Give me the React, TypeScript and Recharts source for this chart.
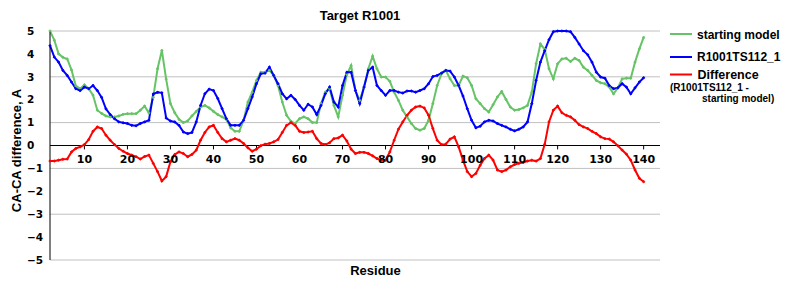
import React from 'react';
import {
  LineChart,
  Line,
  XAxis,
  YAxis,
  CartesianGrid,
  ReferenceLine,
  ReferenceDot,
  Legend,
} from 'recharts';

const FIRST_RESIDUE = 2;

// starting model, residues 2..140
const startingModel = [
  5.0, 4.6, 4.0, 3.85, 3.78, 3.3, 2.6, 2.48, 2.65, 2.48,
  2.2, 1.54, 1.4, 1.29, 1.25, 1.25, 1.29, 1.36, 1.39, 1.39,
  1.39, 1.54, 1.72, 1.42, 2.1, 3.35, 4.15, 2.9, 1.83, 1.43,
  1.14, 1.0, 1.07, 1.29, 1.49, 1.68, 1.75, 1.64, 1.49, 1.35,
  1.25, 1.14, 0.77, 0.62, 0.62, 1.1, 1.9, 2.33, 2.84, 3.2,
  3.2, 3.28, 3.06, 2.62, 1.9, 1.32, 1.06, 0.96, 1.17, 1.25,
  1.17, 1.0, 1.0, 1.83, 2.33, 2.48, 1.75, 1.25, 2.19, 3.1,
  3.49, 2.4, 1.97, 2.55, 3.35, 3.9, 3.35, 2.99, 2.99, 2.8,
  2.33, 1.97, 1.54, 1.25, 0.96, 0.74, 0.67, 0.74, 1.1, 1.83,
  2.62, 3.13, 3.28, 2.91, 2.62, 2.62, 3.03, 2.96, 2.62, 2.04,
  1.83, 1.61, 1.46, 1.78, 2.12, 2.36, 2.01, 1.68, 1.54, 1.57,
  1.64, 1.75, 2.33, 3.57, 4.43, 4.2, 3.35, 2.91, 3.57, 3.78,
  3.81, 3.67, 3.81, 3.71, 3.42, 3.28, 3.06, 2.84, 2.74, 2.7,
  2.55, 2.26, 2.51, 2.91, 2.94, 2.94, 3.64, 4.22, 4.72,
];

// R1001TS112_1, residues 2..140
const r1001ts112 = [
  4.36, 3.86, 3.64, 3.28, 3.06, 2.77, 2.48, 2.4, 2.55, 2.48,
  2.62, 2.4, 2.1, 1.6, 1.35, 1.17, 1.03, 0.99, 0.96, 0.88,
  0.86, 0.96, 1.03, 1.1, 2.25, 2.32, 2.3, 1.2, 1.07, 1.03,
  0.88, 0.59, 0.52, 0.57, 1.03, 1.75, 2.26, 2.46, 2.4, 2.05,
  1.61, 1.17, 0.88, 0.88, 0.88, 1.1, 1.61, 2.12, 2.7, 3.13,
  3.16, 3.42, 3.06, 2.7, 2.26, 2.04, 2.19, 2.01, 1.75, 1.54,
  1.8, 1.68, 1.35, 1.75, 2.26, 2.55, 1.9, 1.68, 2.62, 3.2,
  3.2, 2.4, 1.83, 2.55, 3.28, 3.42, 2.62, 2.4, 2.19, 2.4,
  2.4, 2.33, 2.29, 2.38, 2.38, 2.33, 2.4, 2.48, 2.7, 3.01,
  3.06, 3.16, 3.28, 3.25, 2.99, 2.62, 2.16, 1.61, 1.1, 0.77,
  0.84, 1.03, 1.1, 1.07, 0.96, 0.88, 0.81, 0.71, 0.64, 0.71,
  0.81, 1.03, 1.83, 2.84, 3.64, 4.14, 4.62, 4.97, 5.0, 5.0,
  5.0, 4.97, 4.72, 4.43, 4.14, 3.96, 3.64, 3.2, 2.99, 2.94,
  2.62, 2.48, 2.52, 2.7, 2.55, 2.26, 2.52, 2.77, 2.96,
];

// Difference (R1001TS112_1 - starting model), residues 2..140
const difference = [
  -0.68, -0.68, -0.64, -0.6, -0.59, -0.28, -0.13, -0.06, 0.04, 0.26,
  0.62, 0.81, 0.74, 0.45, 0.23, 0.04, -0.13, -0.25, -0.35, -0.42,
  -0.49, -0.59, -0.48, -0.42, -0.78, -1.14, -1.55, -1.36, -0.71, -0.39,
  -0.28, -0.35, -0.49, -0.39, -0.2, 0.23, 0.57, 0.81, 0.88, 0.57,
  0.3, 0.16, 0.23, 0.3, 0.23, 0.09, -0.1, -0.25, -0.16, -0.01,
  0.06, 0.09, 0.16, 0.26, 0.57, 0.88, 1.0, 0.88, 0.62, 0.57,
  0.59, 0.62, 0.3, 0.09, 0.04, 0.12, 0.3, 0.33, 0.45, 0.2,
  -0.16, -0.35, -0.3, -0.3, -0.35, -0.45, -0.57, -0.64, -0.64, -0.28,
  0.23, 0.71, 1.03, 1.32, 1.54, 1.68, 1.72, 1.64, 1.32, 0.74,
  0.23, 0.04, 0.06, 0.28, 0.38, -0.06, -0.64, -1.14, -1.36, -1.22,
  -0.86, -0.57, -0.42, -0.64, -1.07, -1.14, -1.07, -0.93, -0.83, -0.78,
  -0.74, -0.68, -0.64, -0.68, -0.57, 0.05, 1.03, 1.54, 1.72, 1.43,
  1.32, 1.25, 1.1, 0.91, 0.81, 0.74, 0.62, 0.52, 0.38, 0.3,
  0.28, 0.16, -0.01, -0.2, -0.38, -0.64, -1.07, -1.43, -1.58,
];

const xTicks = [10, 20, 30, 40, 50, 60, 70, 80, 90, 100, 110, 120, 130, 140];
const yTicks = [-5, -4, -3, -2, -1, 0, 1, 2, 3, 4, 5];

const TITLE = 'Target R1001';
const X_LABEL = 'Residue';
const Y_LABEL = 'CA-CA difference, A';
const NAME_START = 'starting model';
const NAME_MODEL = 'R1001TS112_1';
const NAME_DIFF = 'Difference';

const GREEN = '#66c466';
const BLUE = '#0000ff';
const RED = '#ff0000';

const data = startingModel.map((v, i) => ({
  residue: FIRST_RESIDUE + i,
  starting: v,
  model: r1001ts112[i],
  diff: difference[i],
}));

const ARIAL = '"Liberation Sans", Arial, sans-serif';
const VERDANA = '"DejaVu Sans", Verdana, sans-serif';

const fmtY = (v: number) => (v < 0 ? '\u2212' + Math.abs(v) : String(v));

const renderLegend = () => (
  <svg width={135} height={92} style={{ display: 'block' }}>
    <line x1={5} y1={12} x2={27} y2={12} stroke={GREEN} strokeWidth={2} />
    <text x={32} y={16.5} fontFamily={ARIAL} fontWeight="bold" fontSize={12} fill="#000">
      {NAME_START}
    </text>
    <line x1={5} y1={35} x2={27} y2={35} stroke={BLUE} strokeWidth={2} />
    <text x={32} y={38.5} fontFamily={ARIAL} fontWeight="bold" fontSize={12} fill="#000">
      {NAME_MODEL}
    </text>
    <line x1={5} y1={52.5} x2={27} y2={52.5} stroke={RED} strokeWidth={2} />
    <text x={32.5} y={56.5} fontFamily={ARIAL} fontWeight="bold" fontSize={12.5} fill="#000">
      {NAME_DIFF}
    </text>
    <text x={5} y={68.5} fontFamily={ARIAL} fontWeight="bold" fontSize={10} fill="#000">
      {'(' + NAME_MODEL + ' -'}
    </text>
    <text x={37} y={79.5} fontFamily={ARIAL} fontWeight="bold" fontSize={10} fill="#000">
      {NAME_START + ')'}
    </text>
  </svg>
);

export default function App() {
  return (
    <div style={{ position: 'absolute', left: 0, top: 0, width: 800, height: 300, background: '#fff' }}>
      <LineChart width={800} height={300} data={data} margin={{ top: 31, right: 10, bottom: 0, left: 0 }}>
        <text x={360} y={20} textAnchor="middle" fontFamily={ARIAL} fontWeight="bold" fontSize={13} fill="#000">
          {TITLE}
        </text>
        <g transform="translate(21 150.5)">
          <g transform="rotate(-90)">
            <text x={0} y={0} textAnchor="middle" fontFamily={ARIAL} fontWeight="bold" fontSize={13} fill="#000">
              {Y_LABEL}
            </text>
          </g>
        </g>
        <text x={375.5} y={275} textAnchor="middle" fontFamily={ARIAL} fontWeight="bold" fontSize={13} fill="#000">
          {X_LABEL}
        </text>
        <CartesianGrid vertical={false} stroke="#c0c0c0" strokeWidth={1} />
        <XAxis
          dataKey="residue"
          type="number"
          domain={[2, 143.8]}
          ticks={xTicks}
          tick={false}
          tickLine={false}
          axisLine={false}
          height={40}
        />
        <YAxis
          type="number"
          domain={[-5, 5]}
          ticks={yTicks}
          width={50}
          axisLine={{ stroke: '#000', strokeWidth: 1 }}
          tickLine={false}
          tickSize={6}
          tickMargin={17}
          tickFormatter={fmtY}
          tick={{ fontFamily: VERDANA, fontWeight: 'bold', fontSize: 10.5, fill: '#000', textAnchor: 'start' }}
        />
        <ReferenceLine y={0} stroke="#000" strokeWidth={1} />
        {xTicks.map((t) => (
          <ReferenceLine
            key={'tk' + t}
            segment={[
              { x: t, y: 0 },
              { x: t, y: -0.17 },
            ]}
            stroke="#000"
            strokeWidth={1}
          />
        ))}
        {xTicks.map((t) => (
          <ReferenceDot
            key={'tl' + t}
            x={t}
            y={0}
            r={0}
            fill="none"
            stroke="none"
            label={{
              value: String(t),
              position: 'bottom',
              offset: 10,
              fill: '#000',
              fontSize: 11,
              fontWeight: 'bold',
              fontFamily: VERDANA,
            }}
          />
        ))}
        <Legend
          layout="vertical"
          align="right"
          verticalAlign="top"
          width={130}
          wrapperStyle={{ left: 665, top: 22, width: 130, height: 92 }}
          content={renderLegend}
        />
        <Line
          type="linear"
          dataKey="starting"
          name={NAME_START}
          stroke={GREEN}
          strokeWidth={2}
          dot={{ r: 1, fill: GREEN, stroke: GREEN, strokeWidth: 1 }}
          isAnimationActive={false}
        />
        <Line
          type="linear"
          dataKey="model"
          name={NAME_MODEL}
          stroke={BLUE}
          strokeWidth={2}
          dot={{ r: 1, fill: BLUE, stroke: BLUE, strokeWidth: 1 }}
          isAnimationActive={false}
        />
        <Line
          type="linear"
          dataKey="diff"
          name={NAME_DIFF}
          stroke={RED}
          strokeWidth={2}
          dot={{ r: 1, fill: RED, stroke: RED, strokeWidth: 1 }}
          isAnimationActive={false}
        />
      </LineChart>
    </div>
  );
}
